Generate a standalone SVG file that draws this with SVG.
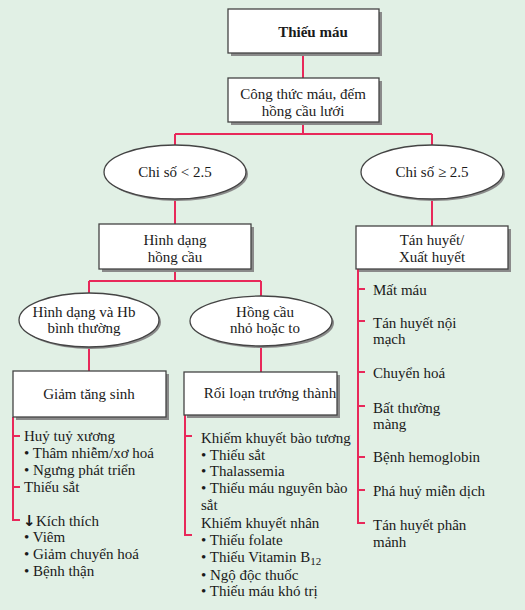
<svg xmlns="http://www.w3.org/2000/svg" width="525" height="610" viewBox="0 0 525 610">
<style>
text{font-family:"Liberation Serif","Times New Roman",serif;font-size:15px;fill:#1a1a1a}
.c{text-anchor:middle}
.box{fill:#fff;stroke:#444;stroke-width:1.3}
.sh{fill:#8a8a8a}
.ln{fill:none;stroke:#e8285a;stroke-width:2}
</style>
<rect width="525" height="610" fill="#e1f0e5"/>
<g id="connectors">
<path class="ln" d="M303 53V78M303 122V134M175 134H432M175 134V146M432 134V146M175 199V224M432 199V226M175 269V281M89 281H261M89 281V293M261 281V296M89 347V371M261 346V372"/>
<path class="ln" d="M13 417V520H20M13 436H20M13 487H20"/>
<path class="ln" d="M185 415V535H192M185 436H192"/>
<path class="ln" d="M358 269V523H365M358 289H365M358 321H365M358 372H365M358 406H365M358 457H365M358 490H365"/>
</g>
<g id="n1"><rect class="sh" x="231" y="12" width="151" height="44"/><rect class="box" x="228" y="9" width="151" height="44"/><text class="c" x="313" y="37" font-weight="bold">Thiếu máu</text></g>
<g id="n2"><rect class="sh" x="231" y="81" width="151" height="44"/><rect class="box" x="228" y="78" width="151" height="44"/><text class="c" x="303" y="99">Công thức máu, đếm</text><text class="c" x="303" y="116">hồng cầu lưới</text></g>
<g id="n3"><ellipse class="sh" cx="177" cy="174" rx="71" ry="27"/><ellipse class="box" cx="175" cy="172" rx="71" ry="27"/><text class="c" x="175" y="177">Chi số &lt; 2.5</text></g>
<g id="n4"><ellipse class="sh" cx="434" cy="174" rx="71" ry="27"/><ellipse class="box" cx="432" cy="172" rx="71" ry="27"/><text class="c" x="432" y="177">Chi số ≥ 2.5</text></g>
<g id="n5"><rect class="sh" x="102" y="227" width="152" height="45"/><rect class="box" x="99" y="224" width="152" height="45"/><text class="c" x="175" y="245">Hình dạng</text><text class="c" x="175" y="262">hồng cầu</text></g>
<g id="n6"><rect class="sh" x="359" y="229" width="152" height="43"/><rect class="box" x="356" y="226" width="152" height="43"/><text class="c" x="432" y="245">Tán huyết/</text><text class="c" x="432" y="262">Xuất huyết</text></g>
<g id="n7"><ellipse class="sh" cx="91" cy="322" rx="70" ry="27"/><ellipse class="box" cx="89" cy="320" rx="70" ry="27"/><text class="c" x="84" y="317">Hình dạng và Hb</text><text class="c" x="84" y="333">bình thường</text></g>
<g id="n8"><ellipse class="sh" cx="263" cy="323" rx="71" ry="25"/><ellipse class="box" cx="261" cy="321" rx="71" ry="25"/><text class="c" x="265" y="317">Hồng cầu</text><text class="c" x="265" y="333">nhỏ hoặc to</text></g>
<g id="n9"><rect class="sh" x="16" y="374" width="153" height="46"/><rect class="box" x="13" y="371" width="153" height="46"/><text class="c" x="89" y="399">Giảm tăng sinh</text></g>
<g id="n10"><rect class="sh" x="187" y="375" width="153" height="43"/><rect class="box" x="184" y="372" width="153" height="43"/><text class="c" x="270" y="398">Rối loạn trưởng thành</text></g>
<g id="list1">
<text x="24" y="441">Huỷ tuỷ xương</text>
<text x="24" y="458">• Thâm nhiễm/xơ hoá</text>
<text x="24" y="475">• Ngưng phát triển</text>
<text x="24" y="492">Thiếu sắt</text>
<text x="23" y="526"><tspan font-family="'DejaVu Sans',sans-serif" font-weight="bold" font-size="15">↓</tspan><tspan x="36">Kích thích</tspan></text>
<text x="24" y="542">• Viêm</text>
<text x="24" y="559">• Giảm chuyển hoá</text>
<text x="24" y="576">• Bệnh thận</text>
</g>
<g id="list2">
<text x="201" y="443">Khiếm khuyết bào tương</text>
<text x="201" y="460">• Thiếu sắt</text>
<text x="201" y="476">• Thalassemia</text>
<text x="201" y="493">• Thiếu máu nguyên bào</text>
<text x="201" y="510">sắt</text>
<text x="201" y="528">Khiếm khuyết nhân</text>
<text x="201" y="545">• Thiếu folate</text>
<text x="201" y="562">• Thiếu Vitamin B<tspan font-size="11" dy="3">12</tspan></text>
<text x="201" y="580">• Ngộ độc thuốc</text>
<text x="201" y="596">• Thiếu máu khó trị</text>
</g>
<g id="list3">
<text x="373" y="295">Mất máu</text>
<text x="373" y="328">Tán huyết nội</text>
<text x="373" y="344">mạch</text>
<text x="373" y="378">Chuyển hoá</text>
<text x="373" y="413">Bất thường</text>
<text x="373" y="429">màng</text>
<text x="373" y="462">Bệnh hemoglobin</text>
<text x="373" y="496">Phá huỷ miễn dịch</text>
<text x="373" y="530">Tán huyết phân</text>
<text x="373" y="547">mảnh</text>
</g>
</svg>
